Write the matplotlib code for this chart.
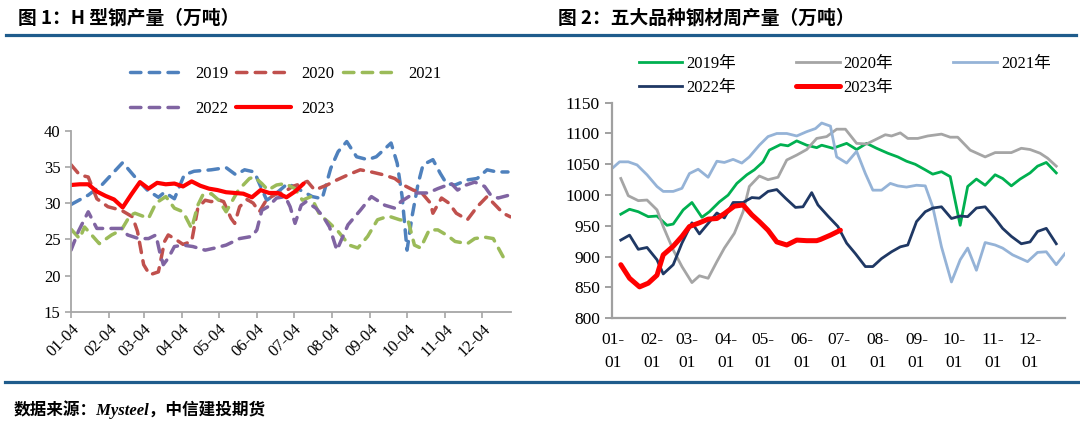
import matplotlib
matplotlib.use('Agg')
import matplotlib.pyplot as plt
from matplotlib.lines import Line2D
import datetime as dt

CJK = 'Noto Sans CJK SC'
SERIF = 'Liberation Serif'
plt.rcParams['font.family'] = [SERIF, CJK]

# ---------------- Left chart: H-beam output (10k t), day-of-year vs value -------------
h_ticks = ['01-04', '02-04', '03-04', '04-04', '05-04', '06-04',
           '07-04', '08-04', '09-04', '10-04', '11-04', '12-04']

h2019_day = [4, 18, 29, 46, 56, 66, 75, 80, 88, 96, 104, 118, 130, 138, 145, 153, 157, 163, 169,
             180, 188, 200, 208, 215, 221, 228, 236, 245, 252, 264, 269, 273, 277, 281, 286, 290,
             298, 304, 309, 316, 326, 334, 342, 350, 359]
h2019_val = [29.8, 31.1, 32.5, 35.6, 33.6, 31.8, 30.8, 31.5, 30.6, 33.9, 34.4, 34.6, 34.9, 33.9,
             34.6, 34.3, 32.7, 30.4, 31.1, 32.7, 32.0, 30.9, 30.6, 34.8, 37.1, 38.5, 36.4, 36.0,
             36.4, 38.3, 35.5, 30.9, 23.5, 28.1, 32.7, 35.3, 36.0, 34.1, 32.7, 32.5, 33.2, 33.4,
             34.6, 34.3, 34.3]

h2020_day = [4, 11, 18, 25, 34, 45, 54, 58, 63, 68, 75, 80, 83, 88, 95, 102, 107, 113, 118, 123,
             128, 134, 137, 141, 147, 152, 157, 163, 170, 177, 184, 191, 196, 202, 212, 220, 229,
             239, 248, 258, 267, 274, 282, 289, 296, 298, 305, 311, 317, 326, 334, 342, 350, 355,
             361]
h2020_val = [35.3, 33.9, 33.6, 30.6, 29.5, 29.0, 28.1, 26.1, 21.5, 20.1, 20.5, 24.7, 25.6, 25.1,
             24.3, 24.7, 29.3, 30.4, 30.2, 30.5, 30.2, 27.9, 27.2, 29.5, 30.5, 30.0, 28.8, 30.5,
             31.2, 31.5, 32.3, 32.7, 33.0, 31.8, 32.5, 33.2, 33.9, 34.6, 34.3, 33.9, 33.4, 32.5,
             31.8, 31.4, 30.0, 28.6, 30.7, 30.0, 28.6, 27.7, 29.5, 30.9, 29.5, 28.6, 28.1]

h2021_day = [4, 11, 15, 27, 37, 45, 52, 56, 67, 73, 81, 88, 95, 102, 107, 111, 118, 124, 130,
             140, 149, 153, 159, 164, 171, 178, 186, 192, 199, 206, 213, 221, 230, 237, 245, 253,
             262, 271, 278, 283, 288, 295, 302, 310, 316, 326, 332, 340, 347, 355]
h2021_val = [26.4, 25.1, 26.7, 24.4, 25.6, 26.3, 28.3, 28.6, 27.9, 30.0, 30.9, 29.3, 28.8, 26.5,
             29.7, 31.1, 31.3, 30.4, 28.8, 31.8, 33.4, 33.6, 32.7, 31.8, 32.5, 32.7, 32.0, 30.4,
             30.9, 28.4, 27.4, 26.1, 24.2, 23.8, 25.4, 27.7, 28.2, 27.7, 27.5, 24.2, 23.8, 26.3,
             26.3, 25.5, 24.7, 24.4, 25.1, 25.3, 25.1, 22.6]

h2022_day = [4, 10, 18, 25, 34, 45, 50, 59, 67, 73, 76, 79, 83, 88, 95, 103, 113, 121, 130, 141,
             151, 155, 159, 164, 171, 178, 182, 186, 191, 195, 203, 209, 214, 220, 229, 239, 248,
             259, 267, 272, 283, 294, 302, 313, 318, 325, 332, 340, 345, 351, 360]
h2022_val = [23.5, 26.1, 28.8, 26.5, 26.5, 26.5, 25.6, 25.1, 25.1, 25.6, 23.3, 21.5, 22.4, 24.0,
             24.2, 24.0, 23.5, 23.8, 24.2, 25.1, 25.4, 26.3, 29.0, 29.5, 30.7, 30.9, 29.5, 27.2,
             29.7, 30.2, 29.3, 28.1, 26.7, 23.5, 27.0, 29.0, 30.9, 29.7, 29.3, 30.2, 31.4, 31.4,
             32.0, 32.7, 31.8, 32.5, 32.9, 32.3, 31.1, 30.7, 31.1]

h2023_day = [4, 11, 18, 25, 32, 39, 46, 53, 60, 67, 74, 81, 88, 95, 102, 109, 116, 123, 130, 137,
             144, 151, 158, 165, 172, 179, 186, 193]
h2023_val = [32.5, 32.6, 32.6, 31.6, 31.0, 30.5, 29.4, 31.2, 32.9, 32.0, 32.8, 32.6, 32.7, 32.3,
             33.0, 32.4, 32.0, 31.8, 31.5, 31.4, 31.3, 30.8, 31.8, 31.4, 31.4, 30.8, 31.6, 32.7]

# ---------------- Right chart: weekly output of five steel products (10k t) -------------
s_ticks = ['01-\n01', '02-\n01', '03-\n01', '04-\n01', '05-\n01', '06-\n01',
           '07-\n01', '08-\n01', '09-\n01', '10-\n01', '11-\n01', '12-\n01']

s2019_day = [7, 14, 21, 29, 36, 44, 49, 57, 64, 72, 78, 86, 93, 100, 108, 114, 121, 126, 135, 141,
             148, 156, 164, 168, 177, 188, 196, 204, 212, 221, 229, 236, 243, 251, 257, 264, 271,
             279, 285, 292, 299, 307, 313, 320, 327, 335, 341, 348, 356]
s2019_val = [969, 977, 973, 965, 966, 951, 953, 976, 988, 964, 973, 989, 1000, 1019, 1033, 1041,
             1054, 1073, 1082, 1080, 1088, 1081, 1077, 1081, 1076, 1084, 1074, 1084, 1076, 1068,
             1062, 1055, 1050, 1041, 1034, 1038, 1030, 951, 1014, 1026, 1016, 1033, 1027, 1015,
             1026, 1036, 1047, 1053, 1036]

s2020_day = [7, 13, 21, 28, 36, 41, 49, 56, 64, 70, 77, 84, 90, 98, 105, 110, 118, 125, 133, 140,
             148, 156, 164, 172, 180, 187, 196, 204, 212, 219, 224, 231, 237, 245, 253, 264, 271,
             277, 287, 299, 307, 320, 328, 335, 343, 349, 356]
s2020_val = [1027, 999, 991, 992, 976, 949, 911, 884, 858, 869, 865, 892, 914, 938, 973, 1014,
             1031, 1025, 1029, 1057, 1065, 1074, 1092, 1095, 1107, 1107, 1084, 1083, 1091, 1098,
             1096, 1101, 1092, 1092, 1096, 1099, 1094, 1094, 1073, 1062, 1069, 1069, 1076, 1074,
             1068, 1060, 1047]

s2021_day = [1, 6, 13, 20, 28, 36, 41, 49, 56, 62, 69, 77, 84, 90, 97, 104, 110, 118, 125, 132,
             140, 148, 156, 163, 168, 175, 180, 188, 196, 203, 209, 216, 223, 229, 236, 244, 251,
             257, 264, 272, 279, 285, 292, 299, 307, 313, 321, 333, 341, 348, 356, 363]
s2021_val = [1045, 1054, 1054, 1049, 1033, 1014, 1006, 1006, 1011, 1035, 1042, 1029, 1055, 1053,
             1058, 1052, 1062, 1081, 1095, 1100, 1100, 1096, 1103, 1108, 1117, 1112, 1062, 1052,
             1071, 1035, 1008, 1008, 1019, 1015, 1013, 1016, 1015, 981, 916, 859, 895, 914, 878,
             923, 919, 914, 903, 892, 907, 908, 887, 905]

s2022_day = [7, 14, 21, 28, 36, 41, 49, 56, 64, 70, 77, 84, 90, 97, 105, 112, 118, 125, 132, 139,
             147, 153, 160, 165, 173, 181, 188, 195, 203, 209, 216, 224, 231, 237, 244, 251, 257,
             264, 272, 279, 285, 292, 299, 307, 313, 320, 328, 335, 341, 348, 356]
s2022_val = [927, 935, 912, 915, 895, 872, 887, 922, 955, 937, 954, 971, 963, 988, 988, 996, 995,
             1006, 1009, 995, 980, 981, 1004, 984, 966, 949, 922, 905, 884, 884, 897, 908, 916,
             919, 957, 973, 979, 981, 962, 966, 965, 979, 981, 962, 946, 933, 921, 924, 941, 946,
             921]

s2023_day = [7, 14, 22, 29, 36, 41, 49, 56, 62, 70, 77, 84, 90, 98, 105, 112, 118, 125, 132, 140,
             148, 156, 164, 167, 175, 183]
s2023_val = [887, 865, 851, 857, 870, 903, 917, 933, 949, 955, 961, 962, 970, 982, 984, 968, 957,
             943, 924, 919, 927, 926, 926, 928, 935, 943]


def doy(md):
    return dt.date(2019, int(md[:2]), int(md[-2:])).timetuple().tm_yday


W, H = 1080, 422
fig = plt.figure(figsize=(W / 100, H / 100), dpi=100)

RULE = '#1F5C8C'
fig.add_artist(Line2D([6 / W, 1076 / W], [1 - 35 / H] * 2, color=RULE, lw=2.3,
                      transform=fig.transFigure))
fig.add_artist(Line2D([5 / W, 1078 / W], [1 - 382 / H] * 2, color=RULE, lw=2.3,
                      transform=fig.transFigure))

fig.text(18 / W, 1 - 18 / H, '图 1：H 型钢产量（万吨）', family=[CJK], weight='bold',
         fontsize=13.5, va='center', ha='left')
fig.text(558 / W, 1 - 18 / H, '图 2：五大品种钢材周产量（万吨）', family=[CJK], weight='bold',
         fontsize=13.5, va='center', ha='left')
fig.text(14 / W, 1 - 410 / H, '数据来源：Mysteel，中信建投期货', family=[SERIF, CJK],
         style='italic', weight='bold', fontsize=12, va='center', ha='left')

AXC = '#A6A6A6'

# ---------------- left axes ----------------
ax1 = fig.add_axes([71 / W, 1 - 311.7 / H, (510.7 - 71) / W, (311.7 - 130.7) / H])
dash = (3, 2.4)
l19, = ax1.plot(h2019_day, h2019_val, color='#4F81BD', lw=2.5, dashes=dash,
                dash_capstyle='round', label='2019')
l20, = ax1.plot(h2020_day, h2020_val, color='#C0504D', lw=2.5, dashes=dash,
                dash_capstyle='round', label='2020')
l21, = ax1.plot(h2021_day, h2021_val, color='#9BBB59', lw=2.5, dashes=dash,
                dash_capstyle='round', label='2021')
l22, = ax1.plot(h2022_day, h2022_val, color='#8064A2', lw=2.5, dashes=dash,
                dash_capstyle='round', label='2022')
l23, = ax1.plot(h2023_day, h2023_val, color='#FF0000', lw=3.0, solid_capstyle='round',
                label='2023')
ax1.set_xlim(4, 361.2)
ax1.set_ylim(15, 40)
ax1.set_yticks(range(15, 41, 5))
ax1.set_xticks([doy(t) for t in h_ticks])
ax1.set_xticklabels(h_ticks, rotation=45, ha='right', rotation_mode='anchor')
for s in ['top', 'right']:
    ax1.spines[s].set_visible(False)
for s in ['left', 'bottom']:
    ax1.spines[s].set_color(AXC)
    ax1.spines[s].set_linewidth(1.3)
ax1.tick_params(axis='both', colors=AXC, labelcolor='black', labelsize=12, length=4, width=1.2)
ax1.tick_params(axis='x', pad=3)

fig.legend([l19, l22, l20, l23, l21], ['2019', '2022', '2020', '2023', '2021'], ncol=3,
           loc='upper left', bbox_to_anchor=(130 / W, 1 - 66 / H), frameon=False,
           fontsize=12, borderpad=0, borderaxespad=0, handlelength=3.3, handletextpad=0.6,
           columnspacing=0.5, labelspacing=1.15)

# ---------------- right axes ----------------
ax2 = fig.add_axes([611.7 / W, 1 - 318.3 / H, (1065 - 611.7) / W, (318.3 - 102.7) / H])
r19, = ax2.plot(s2019_day, s2019_val, color='#00B050', lw=2.0, label='2019年')
r20, = ax2.plot(s2020_day, s2020_val, color='#A5A5A5', lw=2.0, label='2020年')
r21, = ax2.plot(s2021_day, s2021_val, color='#95B3D7', lw=2.0, label='2021年')
r22, = ax2.plot(s2022_day, s2022_val, color='#1F3864', lw=2.0, label='2022年')
r23, = ax2.plot(s2023_day, s2023_val, color='#FF0000', lw=3.6, solid_capstyle='round',
                label='2023年')
ax2.set_xlim(-0.3, 363)
ax2.set_ylim(800, 1150)
ax2.set_yticks(range(800, 1151, 50))
ax2.set_xticks([doy(t.replace('\n', '')) for t in s_ticks])
ax2.set_xticklabels(s_ticks, linespacing=1.55)
for s in ['top', 'right']:
    ax2.spines[s].set_visible(False)
for s in ['left', 'bottom']:
    ax2.spines[s].set_color('#A0A0A0')
    ax2.spines[s].set_linewidth(1.6)
ax2.tick_params(axis='y', colors='#A0A0A0', labelcolor='black', labelsize=12.5, length=5,
                width=1.4)
ax2.tick_params(axis='x', length=0, labelsize=12.5, pad=10)

fig.legend([r19, r22, r20, r23, r21], ['2019年', '2022年', '2020年', '2023年', '2021年'],
           ncol=3, loc='upper left', bbox_to_anchor=(639 / W, 1 - 56 / H), frameon=False,
           fontsize=12, borderpad=0, borderaxespad=0, handlelength=2.6, handletextpad=0.25,
           columnspacing=3.6, labelspacing=0.5)

fig.savefig('out.png', dpi=100)
